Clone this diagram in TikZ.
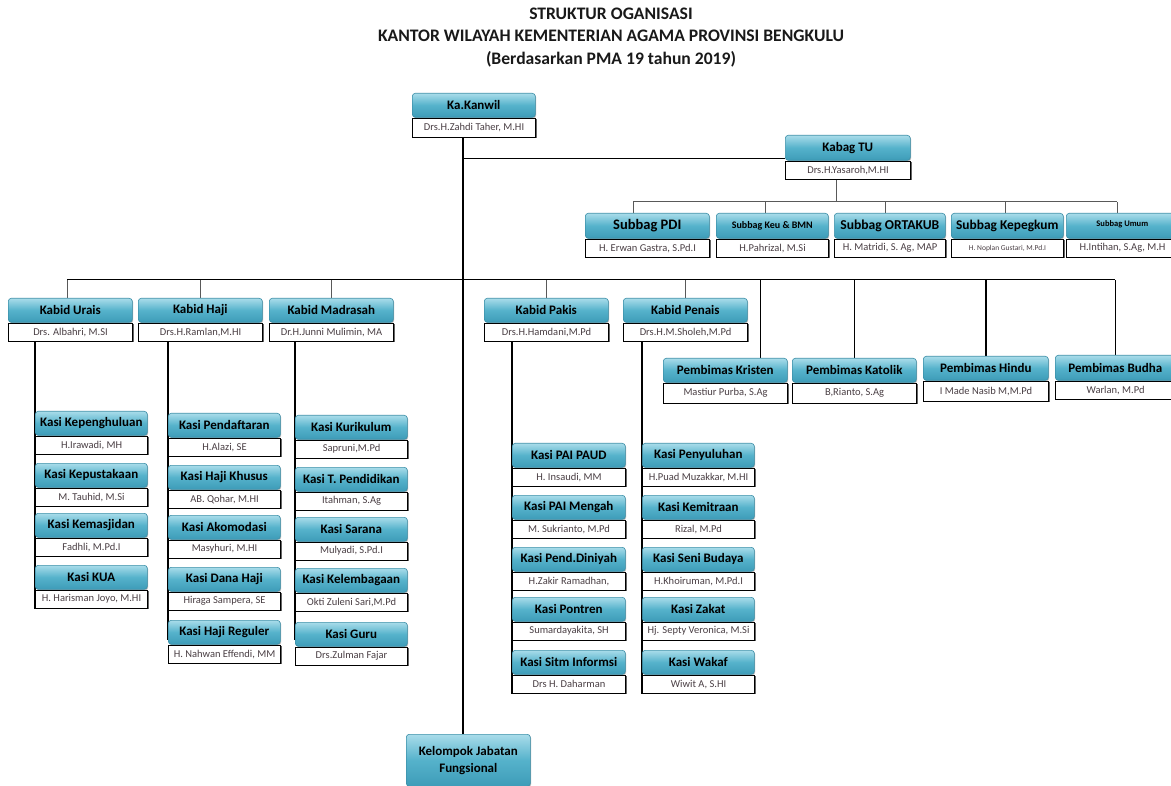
\documentclass[tikz,border=0pt]{standalone}
\usepackage{fontspec}
\setmainfont{Carlito}
\usetikzlibrary{calc,shadows}
\definecolor{tealT}{HTML}{A9DCEA}
\definecolor{tealM}{HTML}{55B2CB}
\definecolor{tealB}{HTML}{3E9CB8}
\definecolor{tealD}{HTML}{3B8FA8}
\definecolor{nm}{HTML}{4A3F44}
\pgfdeclarelayer{background}
\pgfsetlayers{background,main}
\newcommand\obox[7]{%
  \node[hdr,#4,minimum width=#3,anchor=north west] (#1) at (#2) {#6};
  \node[per,#5,minimum width=#3,anchor=north west] (#1p) at (#1.south west) {#7};
}
\begin{document}
\begin{tikzpicture}[x=1pt,y=-1pt,
  hdr/.style={rectangle,rounded corners=3pt,top color=tealT,bottom color=tealB,middle color=tealM,
    draw=tealD,line width=0.6pt,minimum height=24pt,inner sep=0.5pt,
    font=\bfseries\fontsize{13}{14}\selectfont,text=black,
    drop shadow={shadow xshift=0.8pt,shadow yshift=-1pt,fill=black!35,opacity=0.8}},
  per/.style={rectangle,fill=white,draw=black,line width=1.1pt,minimum height=18pt,inner sep=0.5pt,
    font=\fontsize{10.5}{11}\selectfont,text=nm,
    drop shadow={shadow xshift=1pt,shadow yshift=-1pt,fill=black!60,opacity=1}},
  ttl/.style={font=\bfseries\fontsize{17.6}{19}\selectfont,text=black!90,inner sep=0pt},
  ln/.style={line width=1.4pt,black},
  thn/.style={line width=1pt,black!65}]
\useasboundingbox (0,0) rectangle (1171,786);

% title
\node[ttl] (t1) at (611,14) {STRUKTUR OGANISASI};
\node[ttl] (t2) at (611,36) {KANTOR WILAYAH KEMENTERIAN AGAMA PROVINSI BENGKULU};
\node[ttl] (t3) at (611,59) {(Berdasarkan PMA 19 tahun 2019)};

% top
\obox{kanwil}{412,93}{123pt}{minimum height=24pt}{minimum height=19pt}{Ka.Kanwil}{Drs.H.Zahdi Taher, M.HI}
\obox{kabagtu}{785,135}{125pt}{minimum height=25pt}{}{Kabag TU}{Drs.H.Yasaroh,M.HI}

% subbag
\obox{sb1}{585,213}{124pt}{minimum height=25pt,font=\bfseries\fontsize{14.5}{15}\selectfont}{}{Subbag PDI}{H. Erwan Gastra, S.Pd.I}
\obox{sb2}{716,213}{112pt}{minimum height=25pt,font=\bfseries\fontsize{10}{11}\selectfont}{}{Subbag Keu \& BMN}{H.Pahrizal, M.Si}
\obox{sb3}{834,213}{111pt}{minimum height=25pt,font=\bfseries\fontsize{13.6}{14}\selectfont}{}{Subbag ORTAKUB}{H. Matridi, S. Ag, MAP}
\obox{sb4}{951,213}{112pt}{minimum height=25pt,font=\bfseries\fontsize{13.4}{14}\selectfont}{font=\fontsize{7.5}{8}\selectfont}{Subbag Kepegkum}{H. Noplan Gustari, M.Pd.I}
\obox{sb5}{1066,213}{112pt}{minimum height=25pt,font=\bfseries\fontsize{8.5}{9}\selectfont}{}{\raisebox{4pt}{Subbag Umum}}{H.Intihan, S.Ag, M.H}

% kabid
\obox{urais}{8,298}{124pt}{}{}{Kabid Urais}{Drs. Albahri, M.SI}
\obox{haji}{138,298}{124pt}{}{}{Kabid Haji}{Drs.H.Ramlan,M.HI}
\obox{madrasah}{269,298}{124pt}{}{}{Kabid Madrasah}{Dr.H.Junni Mulimin, MA}
\obox{pakis}{484,298}{124pt}{}{}{Kabid Pakis}{Drs.H.Hamdani,M.Pd}
\obox{penais}{623,298}{124pt}{}{}{Kabid Penais}{Drs.H.M.Sholeh,M.Pd}

% pembimas
\obox{kristen}{663,358}{124pt}{}{minimum height=20pt}{Pembimas Kristen}{Mastiur Purba, S.Ag}
\obox{katolik}{792,358}{124pt}{}{minimum height=20pt}{Pembimas Katolik}{B,Rianto, S.Ag}
\obox{hindu}{923,356}{125pt}{}{minimum height=20pt}{Pembimas Hindu}{I Made Nasib M,M.Pd}
\obox{budha}{1055,355}{120pt}{minimum height=25pt}{}{Pembimas Budha}{Warlan, M.Pd}

% kasi col 1
\obox{k11}{35,411}{112pt}{}{}{Kasi Kepenghuluan}{H.Irawadi, MH}
\obox{k12}{35,463}{112pt}{}{}{Kasi Kepustakaan}{M. Tauhid, M.Si}
\obox{k13}{35,513}{112pt}{}{}{Kasi Kemasjidan}{Fadhli, M.Pd.I}
\obox{k14}{35,565}{112pt}{}{}{Kasi KUA}{H. Harisman Joyo, M.HI}
% col 2
\obox{k21}{168,413}{112pt}{}{}{Kasi Pendaftaran}{H.Alazi, SE}
\obox{k22}{168,465}{112pt}{}{}{Kasi Haji Khusus}{AB. Qohar, M.HI}
\obox{k23}{168,515}{112pt}{}{}{Kasi Akomodasi}{Masyhuri, M.HI}
\obox{k24}{168,567}{112pt}{}{}{Kasi Dana Haji}{Hiraga Sampera, SE}
\obox{k25}{168,620}{112pt}{}{}{Kasi Haji Reguler}{H. Nahwan Effendi, MM}
% col 3
\obox{k31}{295,415}{112pt}{}{}{Kasi Kurikulum}{Sapruni,M.Pd}
\obox{k32}{295,467}{112pt}{}{}{Kasi T. Pendidikan}{Itahman, S.Ag}
\obox{k33}{295,517}{112pt}{}{}{Kasi Sarana}{Mulyadi, S.Pd.I}
\obox{k34}{295,568}{112pt}{}{}{Kasi Kelembagaan}{Okti Zuleni Sari,M.Pd}
\obox{k35}{295,622}{112pt}{}{}{Kasi Guru}{Drs.Zulman Fajar}
% col 4
\obox{k41}{512,443}{113pt}{}{}{Kasi PAI PAUD}{H. Insaudi, MM}
\obox{k42}{512,495}{113pt}{}{}{Kasi PAI Mengah}{M. Sukrianto, M.Pd}
\obox{k43}{512,547}{113pt}{}{}{Kasi Pend.Diniyah}{H.Zakir Ramadhan,}
\obox{k44}{512,597}{113pt}{}{}{Kasi Pontren}{Sumardayakita, SH}
\obox{k45}{512,650}{113pt}{}{}{Kasi Sitm Informsi}{Drs H. Daharman}
% col 5
\obox{k51}{642,443}{112pt}{}{}{Kasi Penyuluhan}{H.Puad Muzakkar, M.HI}
\obox{k52}{642,495}{112pt}{}{}{Kasi Kemitraan}{Rizal, M.Pd}
\obox{k53}{642,547}{112pt}{}{}{Kasi Seni Budaya}{H.Khoiruman, M.Pd.I}
\obox{k54}{642,597}{112pt}{}{}{Kasi Zakat}{Hj. Septy Veronica, M.Si}
\obox{k55}{642,650}{112pt}{}{}{Kasi Wakaf}{Wiwit A, S.HI}

% bottom
\node[hdr,minimum width=124pt,minimum height=52pt,align=center,anchor=north west] (kjf) at (406,734) {Kelompok Jabatan\\[3pt]Fungsional};

\begin{pgfonlayer}{background}
  \fill[white] (0,0) rectangle (1171,786);
  \coordinate (tt) at ($(kanwilp.south)+(-11,0)$);
  \draw[ln] (tt) -- (tt |- kjf.north);
  \coordinate (jtu) at ($(kabagtu.south west)+(0,-2)$);
  \draw[ln] (tt |- jtu) -- (jtu);
  % subbag bus
  \coordinate (tud) at ($(kabagtup.south)+(-12,0)$);
  \coordinate (sbus) at ($(tud)+(0,22)$);
  \draw[thn] (tud) -- (sbus);
  \draw[thn] ($(sb1.north)+(-14,0)$) coordinate (d1) -- (d1 |- sbus);
  \draw[thn] ($(sb2.north)+(-7,0)$) coordinate (d2) -- (d2 |- sbus);
  \draw[thn] ($(sb3.north)+(-4,0)$) coordinate (d3) -- (d3 |- sbus);
  \draw[thn] ($(sb4.north)+(-2,0)$) coordinate (d4) -- (d4 |- sbus);
  \draw[thn] ($(sb5.north)+(-5,0)$) coordinate (d5) -- (d5 |- sbus);
  \draw[thn] (d1 |- sbus) -- (d5 |- sbus);
  % main bus
  \coordinate (mb) at ($(tt)+(0,142)$);
  \coordinate (du) at ($(urais.north)+(-3,0)$);
  \draw[ln] (du |- mb) -- (budha.north |- mb);
  \draw[thn] (du) -- (du |- mb);
  \foreach \n in {haji,madrasah,pakis,penais}
    \draw[thn] (\n.north) -- (\n.north |- mb);
  \foreach \n in {katolik,hindu,budha}
    \draw[ln] (\n.north) -- (\n.north |- mb);
  \draw[ln] ($(kristen.north)+(35,0)$) coordinate (kr) -- (kr |- mb);
  % columns
  \draw[ln] (uraisp.south -| k14p.west) -- (k14p.south west);
  \draw[ln] (hajip.south -| k25.west) -- ($(k25.west)+(0,8)$);
  \draw[ln] (madrasahp.south -| k35.west) -- ($(k35.west)+(0,6)$);
  \draw[ln] (pakisp.south -| k45p.west) -- (k45p.south west);
  \draw[ln] (penaisp.south -| k55p.west) -- (k55p.south west);
\end{pgfonlayer}
\end{tikzpicture}
\end{document}
